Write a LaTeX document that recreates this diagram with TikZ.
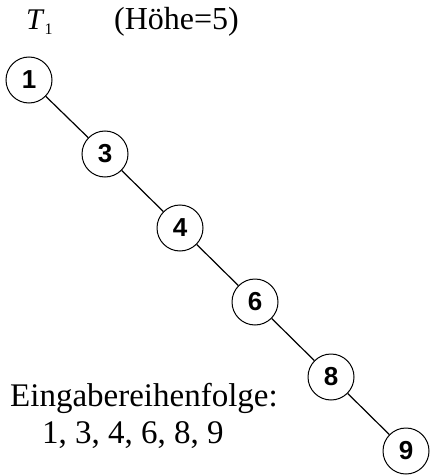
\documentclass[tikz,border=0pt]{standalone}
\usepackage{fontspec}
\setmainfont{Liberation Serif}
\newfontfamily\numfont{Liberation Sans}
\begin{document}
\begin{tikzpicture}[x=1pt,y=-1pt,
  knot/.style={circle,draw,line width=1pt,minimum size=46pt,inner sep=0pt,
    font=\numfont\bfseries\fontsize{26}{26}\selectfont},
  edge/.style={line width=1.2pt},
  lbl/.style={anchor=base west,inner sep=0pt}]
\useasboundingbox (0,0) rectangle (431,476);
\node[lbl,font=\fontsize{30}{30}\selectfont] (t) at (26,30) {\textit{T}\raisebox{-5pt}{\fontsize{16}{16}\selectfont 1}};
\node[lbl,font=\fontsize{32}{32}\selectfont] (h) at (114,30) {(Höhe=5)};
\node[knot] (n1) at (29,80) {1};
\node[knot] (n3) at (105,154) {3};
\node[knot] (n4) at (180,228) {4};
\node[knot] (n6) at (255,302) {6};
\node[knot] (n8) at (331,377) {8};
\node[knot] (n9) at (406,451) {9};
\draw[edge] (n1) -- (n3);
\draw[edge] (n3) -- (n4);
\draw[edge] (n4) -- (n6);
\draw[edge] (n6) -- (n8);
\draw[edge] (n8) -- (n9);
\node[lbl,font=\fontsize{33}{33}\selectfont] (e1) at (10,406) {Eingabereihenfolge:};
\node[lbl,font=\fontsize{33}{33}\selectfont] (e2) at (42,443) {1, 3, 4, 6, 8, 9};
\end{tikzpicture}
\end{document}
